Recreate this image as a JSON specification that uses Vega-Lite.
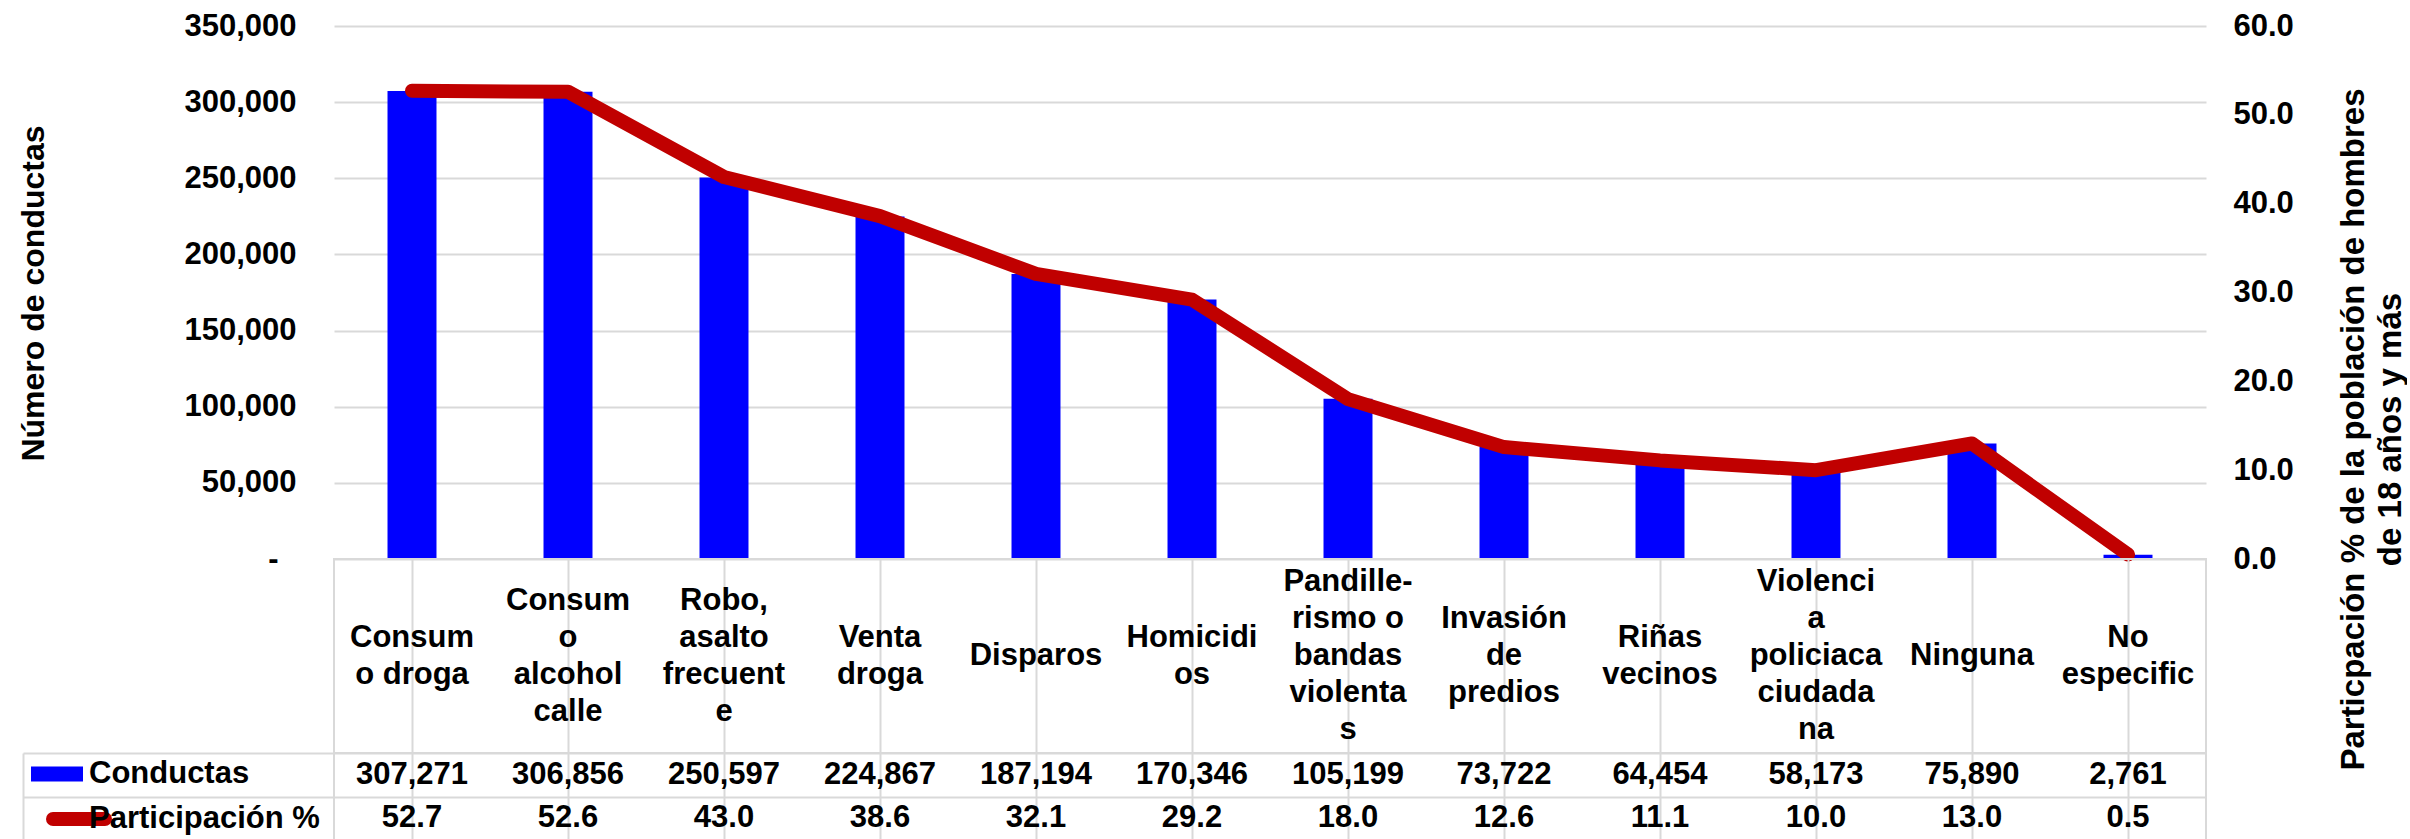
{
  "$schema": "https://vega.github.io/schema/vega-lite/v6.json",
  "background": "white",
  "padding": {"left": 17, "top": 10, "right": 0, "bottom": 0},
  "config": {
    "font": "Liberation Sans",
    "view": {"stroke": null},
    "axis": {"labelFont": "Liberation Sans", "labelFontSize": 31, "labelFontWeight": "bold", "labelColor": "#000000", "titleFont": "Liberation Sans", "titleFontSize": 32, "titleFontWeight": "bold", "titleColor": "#000000"},
    "text": {"font": "Liberation Sans", "fontSize": 31, "fontWeight": "bold", "color": "#000000"},
    "legend": {"labelFont": "Liberation Sans", "labelFontSize": 31, "labelFontWeight": "bold", "labelColor": "#000000", "labelLimit": 400, "padding": 0, "title": null}
  },
  "datasets": {
    "d": [
      {"cat": "Consumo droga", "label": "Consum\no droga", "conductas": 307271, "participacion": 52.7},
      {"cat": "Consumo alcohol calle", "label": "Consum\no\nalcohol\ncalle", "conductas": 306856, "participacion": 52.6},
      {"cat": "Robo, asalto frecuente", "label": "Robo,\nasalto\nfrecuent\ne", "conductas": 250597, "participacion": 43.0},
      {"cat": "Venta droga", "label": "Venta\ndroga", "conductas": 224867, "participacion": 38.6},
      {"cat": "Disparos", "label": "Disparos", "conductas": 187194, "participacion": 32.1},
      {"cat": "Homicidios", "label": "Homicidi\nos", "conductas": 170346, "participacion": 29.2},
      {"cat": "Pandillerismo o bandas violentas", "label": "Pandille-\nrismo o\nbandas\nviolenta\ns", "conductas": 105199, "participacion": 18.0},
      {"cat": "Invasión de predios", "label": "Invasión\nde\npredios", "conductas": 73722, "participacion": 12.6},
      {"cat": "Riñas vecinos", "label": "Riñas\nvecinos", "conductas": 64454, "participacion": 11.1},
      {"cat": "Violencia policiaca ciudadana", "label": "Violenci\na\npoliciaca\nciudada\nna", "conductas": 58173, "participacion": 10.0},
      {"cat": "Ninguna", "label": "Ninguna", "conductas": 75890, "participacion": 13.0},
      {"cat": "No especificado", "label": "No\nespecific", "conductas": 2761, "participacion": 0.5}
    ]
  },
  "spacing": 0,
  "bounds": "flush",
  "resolve": {"scale": {"x": "independent", "y": "independent", "color": "independent", "fill": "independent", "stroke": "independent"}},
  "vconcat": [
    {
      "width": 1872,
      "height": 533,
      "data": {"name": "d"},
      "encoding": {
        "x": {"field": "cat", "type": "nominal", "sort": null, "scale": {"paddingInner": 0.686, "paddingOuter": 0.343}, "axis": null}
      },
      "layer": [
        {
          "mark": {"type": "bar"},
          "encoding": {
            "y": {
              "field": "conductas", "type": "quantitative",
              "scale": {"domain": [0, 350000], "nice": false},
              "axis": {
                "orient": "left",
                "values": [0, 50000, 100000, 150000, 200000, 250000, 300000, 350000],
                "labelExpr": "datum.value === 0 ? '-' : format(datum.value, ',')",
                "labelPadding": {"condition": {"test": "datum.value === 0", "value": 56}, "value": 38},
                "ticks": false, "tickSize": 0, "domain": false,
                "grid": true, "gridColor": "#d9d9d9", "gridWidth": 2,
                "title": "Número de conductas",
                "titleAngle": 270, "titleX": -291, "titleY": 267, "titleBaseline": "alphabetic", "titleAlign": "center"
              }
            },
            "fill": {
              "datum": "Conductas",
              "scale": {"domain": ["Conductas"], "range": ["#0000FF"]},
              "legend": {
                "orient": "none", "legendX": -303, "legendY": 722,
                "symbolType": "M-1,-0.29H1V0.29H-1Z", "symbolSize": 2704, "symbolStrokeWidth": 0,
                "symbolFillColor": "#0000FF", "symbolOpacity": 1, "labelOffset": 6
              }
            }
          }
        },
        {
          "mark": {"type": "line", "strokeWidth": 14, "strokeCap": "round", "strokeJoin": "round"},
          "encoding": {
            "y": {
              "field": "participacion", "type": "quantitative",
              "scale": {"domain": [0, 60], "nice": false},
              "axis": {
                "orient": "right",
                "values": [0, 10, 20, 30, 40, 50, 60],
                "format": ".1f",
                "labelPadding": 27, "ticks": false, "tickSize": 0, "domain": false, "grid": false,
                "title": ["Particpación % de la población de hombres", "de 18 años y más"],
                "titleFontSize": 33,
                "titleAngle": 270, "titleX": 157, "titleY": 403, "titleBaseline": "alphabetic", "titleAlign": "center", "titleLineHeight": 37
              }
            },
            "stroke": {
              "datum": "Participación %",
              "scale": {"domain": ["Participación %"], "range": ["#C00000"]},
              "legend": {
                "orient": "none", "legendX": -288, "legendY": 760,
                "symbolType": "stroke", "symbolSize": 2704, "symbolStrokeWidth": 14, "symbolOpacity": 1,
                "labelOffset": -23,
                "encode": {"symbols": {"update": {"strokeCap": {"value": "round"}}}}
              }
            }
          }
        }
      ],
      "resolve": {"scale": {"y": "independent"}}
    },
    {
      "width": 1872,
      "height": 194,
      "data": {"name": "d"},
      "view": {"stroke": "#d9d9d9", "strokeWidth": 2},
      "mark": {"type": "text", "lineBreak": "\n", "lineHeight": 37, "baseline": "middle", "align": "center",
        "dy": {"expr": "-(length(split(datum.label, '\\n')) - 1) * 18.5"}},
      "encoding": {
        "x": {"field": "cat", "type": "nominal", "sort": null, "scale": {"paddingInner": 0, "paddingOuter": 0},
          "axis": {"title": null, "labels": false, "ticks": false, "domain": false, "grid": true, "bandPosition": 0, "gridColor": "#d9d9d9", "gridWidth": 2}},
        "text": {"field": "label"}
      }
    },
    {
      "width": 1872,
      "height": 87,
      "data": {"name": "d"},
      "view": {"stroke": "#d9d9d9", "strokeWidth": 2},
      "encoding": {
        "x": {"field": "cat", "type": "nominal", "sort": null, "scale": {"paddingInner": 0, "paddingOuter": 0},
          "axis": {"title": null, "labels": false, "ticks": false, "domain": false, "grid": true, "bandPosition": 0, "gridColor": "#d9d9d9", "gridWidth": 2}}
      },
      "layer": [
        {
          "mark": {"type": "text", "baseline": "middle", "align": "center"},
          "encoding": {
            "y": {"datum": "Conductas", "type": "nominal",
              "scale": {"domain": ["Conductas", "Participación %"], "paddingInner": 0, "paddingOuter": 0},
              "axis": {"title": null, "labels": false, "orient": "left", "offset": 311,
                "domain": true, "domainColor": "#d9d9d9", "domainWidth": 2,
                "ticks": true, "tickBand": "extent", "tickSize": -311, "tickColor": "#d9d9d9", "tickWidth": 2,
                "grid": true, "bandPosition": 0, "gridColor": "#d9d9d9", "gridWidth": 2}},
            "text": {"field": "conductas", "type": "quantitative", "format": ",.0f"}
          }
        },
        {
          "mark": {"type": "text", "baseline": "middle", "align": "center"},
          "encoding": {
            "y": {"datum": "Participación %", "type": "nominal"},
            "text": {"field": "participacion", "type": "quantitative", "format": ".1f"}
          }
        }
      ]
    }
  ]
}
